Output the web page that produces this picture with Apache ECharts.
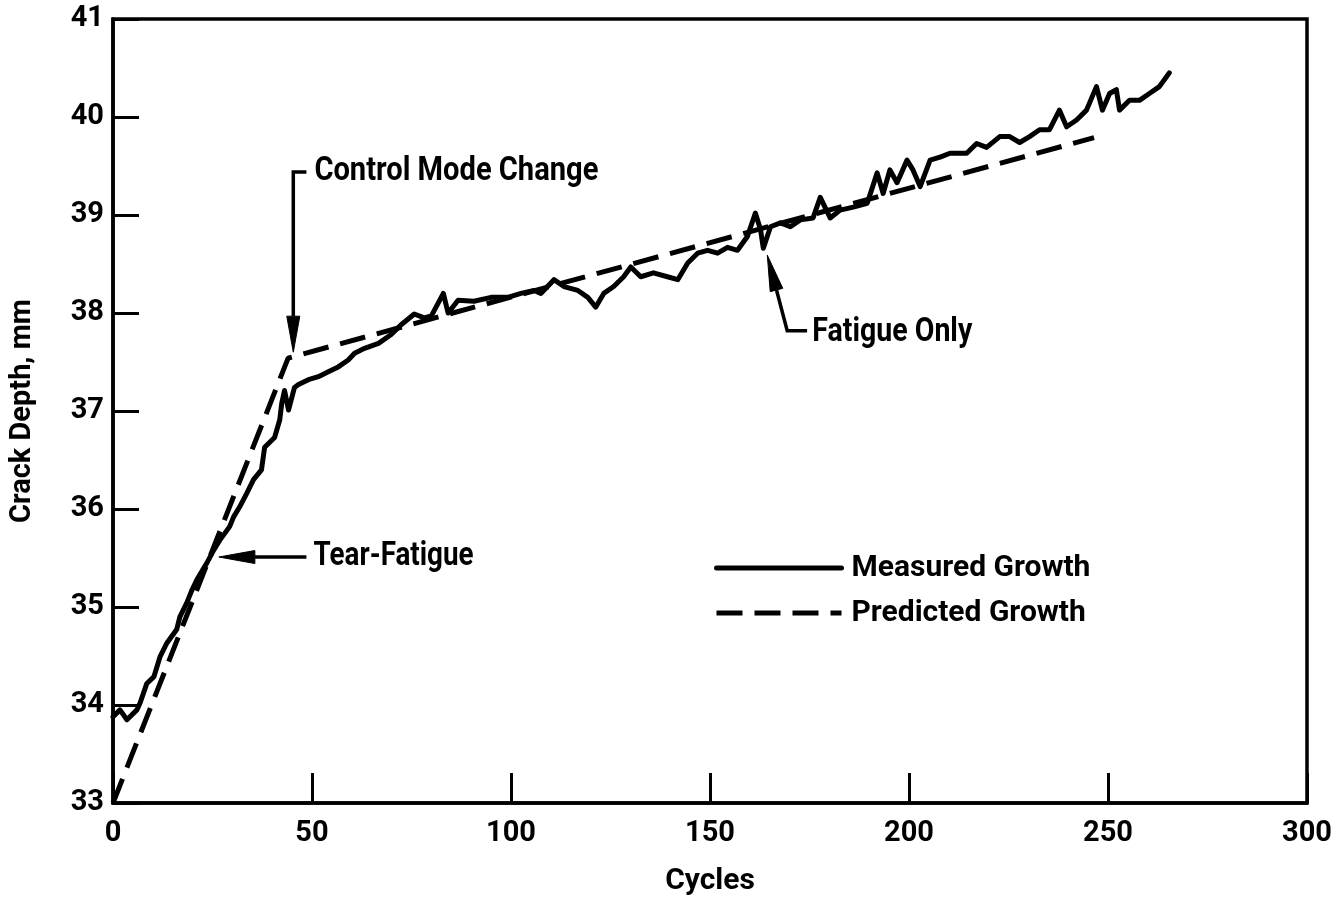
<!DOCTYPE html>
<html>
<head>
<meta charset="utf-8">
<script src="https://cdn.jsdelivr.net/npm/echarts@6/dist/echarts.min.js"></script>
<style>
html,body{margin:0;padding:0;background:#fff;}
#chart{width:1342px;height:903px;}
</style>
</head>
<body>
<div id="chart"></div>
<script>
// ---- data ----
var xTicks = [0, 50, 100, 150, 200, 250, 300];
var yTicks = [33, 34, 35, 36, 37, 38, 39, 40, 41];

var measuredX = [0, 1.75, 3.5, 6.0, 6.8, 8.5, 10.3, 11.8, 13.5, 16.0, 16.8, 18.5, 19.8, 21.1, 23.6, 25.3, 26.8, 29.3, 30.3, 31.8, 33.6, 35.3, 37.3, 38.1, 40.6, 41.9, 42.4, 43.1, 44.1, 45.6, 46.6, 49.1, 51.6, 54.1, 56.6, 59.1, 60.7, 63.2, 66.7, 69.9, 72.4, 75.7, 78.2, 80.0, 83.0, 84.2, 86.7, 90.7, 95.0, 99.2, 102.5, 105.8, 107.5, 110.8, 113.3, 116.8, 119.3, 121.3, 123.3, 125.8, 128.3, 130.1, 132.6, 135.8, 139.3, 141.9, 144.4, 146.9, 149.4, 151.9, 154.4, 156.9, 159.4, 161.4, 162.7, 163.4, 165.2, 167.7, 170.2, 172.7, 175.9, 177.7, 180.2, 182.7, 186.0, 189.5, 192.0, 193.5, 195.2, 197.0, 199.5, 201.0, 202.8, 205.3, 207.8, 210.3, 214.5, 217.0, 219.5, 222.8, 225.3, 227.8, 230.3, 232.8, 235.3, 237.8, 239.6, 242.1, 244.6, 247.1, 248.6, 250.4, 252.1, 252.9, 255.4, 257.9, 260.4, 262.9, 264.7, 265.4];
var measuredY = [33.88, 33.95, 33.85, 33.95, 34.02, 34.22, 34.29, 34.49, 34.63, 34.77, 34.90, 35.04, 35.17, 35.28, 35.45, 35.58, 35.68, 35.82, 35.92, 36.02, 36.16, 36.30, 36.40, 36.63, 36.73, 36.91, 37.08, 37.21, 37.01, 37.24, 37.27, 37.32, 37.35, 37.40, 37.45, 37.52, 37.59, 37.64, 37.69, 37.78, 37.88, 37.99, 37.95, 37.97, 38.20, 38.00, 38.13, 38.12, 38.16, 38.16, 38.20, 38.23, 38.20, 38.34, 38.27, 38.23, 38.16, 38.06, 38.20, 38.27, 38.37, 38.47, 38.37, 38.41, 38.37, 38.34, 38.51, 38.61, 38.64, 38.61, 38.67, 38.64, 38.78, 39.02, 38.85, 38.66, 38.88, 38.92, 38.88, 38.95, 38.97, 39.18, 38.97, 39.05, 39.08, 39.12, 39.43, 39.22, 39.46, 39.33, 39.56, 39.46, 39.29, 39.56, 39.59, 39.63, 39.63, 39.73, 39.69, 39.80, 39.80, 39.74, 39.80, 39.87, 39.87, 40.07, 39.90, 39.97, 40.07, 40.31, 40.07, 40.24, 40.28, 40.07, 40.17, 40.17, 40.24, 40.31, 40.41, 40.45];

var predictedX = [0, 44, 246.5];
var predictedY = [33, 37.54, 39.79];

var seriesNames = ['Measured Growth', 'Predicted Growth'];
var xName = 'Cycles';
var yName = 'Crack Depth, mm';

// annotations (data coordinates)
var annControlPath = [[48.6, 39.44], [45.3, 39.44], [45.3, 37.60]];
var annControlText = {text: 'Control Mode Change', at: [50.6, 39.44], width: 284};
var annTearPath = [[48.6, 35.51], [26.6, 35.51]];
var annTearText = {text: 'Tear-Fatigue', at: [50.4, 35.51], width: 160};
var annFatiguePath = [[174.4, 37.82], [169.4, 37.82], [164.4, 38.59]];
var annFatigueText = {text: 'Fatigue Only', at: [175.7, 37.80], width: 160};

// ---- chart ----
var FONT = "Roboto, 'Liberation Sans', sans-serif";
var chart = echarts.init(document.getElementById('chart'), null, {renderer: 'canvas'});

function zip(xs, ys) { return xs.map(function (x, i) { return [x, ys[i]]; }); }

var option = {
  animation: false,
  backgroundColor: '#fff',
  grid: {left: 111, right: 35, top: 19, bottom: 100, show: true, borderColor: '#000', borderWidth: 3.5, backgroundColor: 'transparent'},
  legend: {
    orient: 'vertical', left: 709, top: 548, itemWidth: 125, itemHeight: 20, itemGap: 15,
    data: seriesNames,
    itemStyle: {color: 'rgba(0,0,0,0)', borderColor: 'rgba(0,0,0,0)', borderWidth: 0},
    lineStyle: {width: 5},
    textStyle: {fontFamily: FONT, fontSize: 30, fontWeight: 'bold', color: '#000', padding: [0, 0, 0, 5]}
  },
  xAxis: {
    type: 'value', min: 0, max: 300, interval: 50,
    name: xName, nameLocation: 'middle', nameGap: 63,
    nameTextStyle: {fontFamily: FONT, fontSize: 30, fontWeight: 'bold', color: '#000'},
    axisLine: {show: true, lineStyle: {color: '#000', width: 3.5}},
    axisTick: {show: true, inside: true, length: 30, lineStyle: {color: '#000', width: 3}},
    axisLabel: {fontFamily: FONT, fontSize: 29, fontWeight: 'bold', color: '#000', margin: 16,
      formatter: function (v) { return xTicks.indexOf(v) >= 0 ? String(v) : ''; }},
    splitLine: {show: false}
  },
  yAxis: {
    type: 'value', min: 33, max: 41, interval: 1,
    name: yName, nameLocation: 'middle', nameGap: 76, nameRotate: 90,
    nameTextStyle: {fontFamily: FONT, fontSize: 29, fontWeight: 'bold', color: '#000'},
    axisLine: {show: true, lineStyle: {color: '#000', width: 3.5}},
    axisTick: {show: true, inside: true, length: 26, lineStyle: {color: '#000', width: 3}},
    axisLabel: {fontFamily: FONT, fontSize: 29, fontWeight: 'bold', color: '#000', margin: 9,
      formatter: function (v) { return yTicks.indexOf(v) >= 0 ? String(v) : ''; }},
    splitLine: {show: false}
  },
  series: [
    {
      name: seriesNames[0], type: 'line', data: zip(measuredX, measuredY),
      symbol: 'none', smooth: false,
      lineStyle: {color: '#000', width: 5, join: 'round', cap: 'round'},
      itemStyle: {color: '#000'}
    },
    {
      name: seriesNames[1], type: 'line', data: zip(predictedX, predictedY),
      symbol: 'none',
      lineStyle: {color: '#000', width: 5, type: [26, 12], cap: 'butt'},
      itemStyle: {color: '#000'}
    }
  ]
};
chart.setOption(option);

function px(p) { return chart.convertToPixel({gridIndex: 0}, p); }

function arrowGraphics(path) {
  var pts = path.map(px);
  var els = [];
  var tip = pts[pts.length - 1];
  var prev = pts[pts.length - 2];
  var dx = tip[0] - prev[0], dy = tip[1] - prev[1];
  var len = Math.sqrt(dx * dx + dy * dy);
  var ux = dx / len, uy = dy / len;
  var L = 36, W = 6.5;
  var bx = tip[0] - ux * L, by = tip[1] - uy * L;
  var linePts = pts.slice(0, pts.length - 1).concat([[bx, by]]);
  els.push({type: 'polyline', shape: {points: linePts}, style: {stroke: '#000', lineWidth: 3.5, fill: null}, z: 100});
  els.push({type: 'polygon', shape: {points: [tip, [bx - uy * W, by + ux * W], [bx + uy * W, by - ux * W]]}, style: {fill: '#000', stroke: '#000', lineWidth: 1}, z: 100});
  return els;
}

var measureCtx = document.createElement('canvas').getContext('2d');
function textGraphic(t) {
  var p = px(t.at);
  var font = 'bold 33px ' + FONT;
  measureCtx.font = font;
  var natural = measureCtx.measureText(t.text).width;
  var sx = natural > 0 ? t.width / natural : 1;
  return {type: 'text', x: p[0], y: p[1], z: 100, scaleX: sx, scaleY: 1, originX: 0, originY: 0,
    style: {text: t.text, fill: '#000', font: font, textAlign: 'left', textVerticalAlign: 'middle', align: 'left', verticalAlign: 'middle'}};
}

var g = [].concat(
  arrowGraphics(annControlPath), arrowGraphics(annTearPath), arrowGraphics(annFatiguePath),
  [textGraphic(annControlText), textGraphic(annTearText), textGraphic(annFatigueText)]
);
chart.setOption({graphic: g});
</script>
</body>
</html>
